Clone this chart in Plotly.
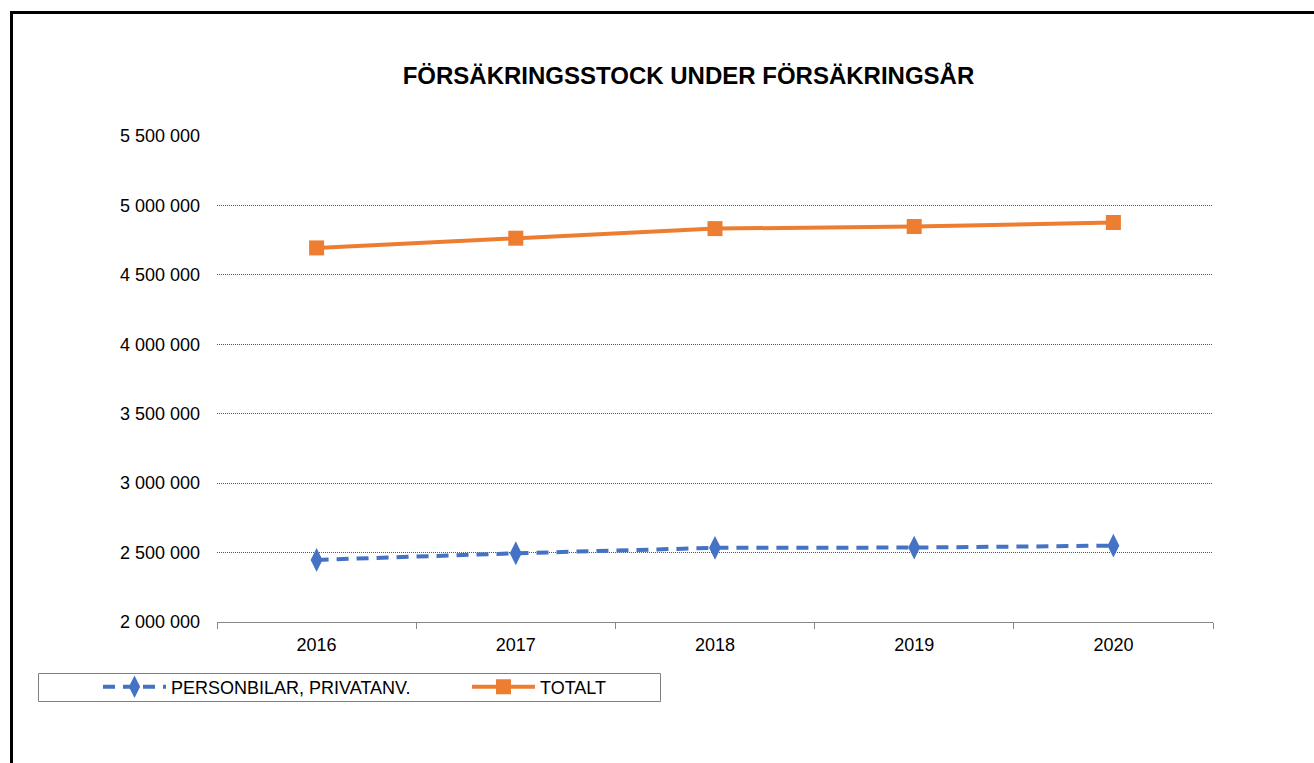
import plotly.graph_objects as go

years = ["2016", "2017", "2018", "2019", "2020"]
personbilar = [2447000, 2495000, 2534000, 2536000, 2550000]
totalt = [4694000, 4764000, 4833000, 4848000, 4877000]
series_names = ["PERSONBILAR, PRIVATANV.", "TOTALT"]
title_text = "FÖRSÄKRINGSSTOCK UNDER FÖRSÄKRINGSÅR"

W, H = 1314, 763
L, R, T, B = 217, 101, 136, 141
PW, PH = W - L - R, H - T - B


def px_x(px):
    return (px - L) / PW


def px_y(py):
    return (H - B - py) / PH


FONT = "Liberation Sans, Arial, sans-serif"

fig = go.Figure()
fig.add_trace(go.Scatter(
    x=years, y=personbilar, name=series_names[0], mode="lines+markers",
    line=dict(color="#4472C4", width=4, dash="12px,8px"),
    marker=dict(symbol="diamond-tall", size=17, color="#4472C4"),
))
fig.add_trace(go.Scatter(
    x=years, y=totalt, name=series_names[1], mode="lines+markers",
    line=dict(color="#ED7D31", width=4),
    marker=dict(symbol="square", size=15, color="#ED7D31"),
))

fig.update_layout(
    width=W, height=H,
    margin=dict(l=L, r=R, t=T, b=B, autoexpand=False),
    paper_bgcolor="white", plot_bgcolor="white",
    separators=", ",
    font=dict(family=FONT, size=18, color="black"),
    title=dict(text="<b>" + title_text + "</b>", x=688.5 / W, xref="container", xanchor="center",
               y=1 - 76 / H, yref="container", yanchor="middle",
               font=dict(family=FONT, size=24, color="black")),
    showlegend=True,
    legend=dict(orientation="h", x=px_x(98), xanchor="left", y=px_y(687), yanchor="middle",
                bgcolor="rgba(0,0,0,0)", borderwidth=0, itemwidth=63,
                entrywidth=291, entrywidthmode="pixels",
                font=dict(family=FONT, size=18, color="black")),
    shapes=[
        dict(type="rect", xref="paper", yref="paper",
             x0=px_x(11.5), x1=px_x(1340), y0=px_y(800), y1=px_y(12.5),
             line=dict(color="black", width=3), fillcolor="rgba(0,0,0,0)", layer="below"),
        dict(type="rect", xref="paper", yref="paper",
             x0=px_x(38.5), x1=px_x(660.5), y0=px_y(701.5), y1=px_y(673.5),
             line=dict(color="#7f7f7f", width=1), fillcolor="rgba(0,0,0,0)", layer="below"),
    ],
)

fig.update_xaxes(
    type="category", range=[-0.5, 4.5], tickson="boundaries",
    ticks="outside", ticklen=6, tickcolor="#868686", tickwidth=1,
    showline=True, linecolor="#868686", linewidth=1,
    showgrid=False, ticklabelstandoff=6,
    tickfont=dict(family=FONT, size=18, color="black"),
)
fig.update_yaxes(
    range=[2000000, 5500000], dtick=500000, tick0=0, tickformat=",d",
    showgrid=True, gridcolor="#555555", gridwidth=1, griddash="1px,1px",
    zeroline=False, showline=False, ticks="", ticklabelstandoff=16,
    tickfont=dict(family=FONT, size=18, color="black"),
)

fig.write_html("out.html", config={"displayModeBar": False},
               post_script="document.body.style.margin='0';document.body.style.overflow='hidden';")
